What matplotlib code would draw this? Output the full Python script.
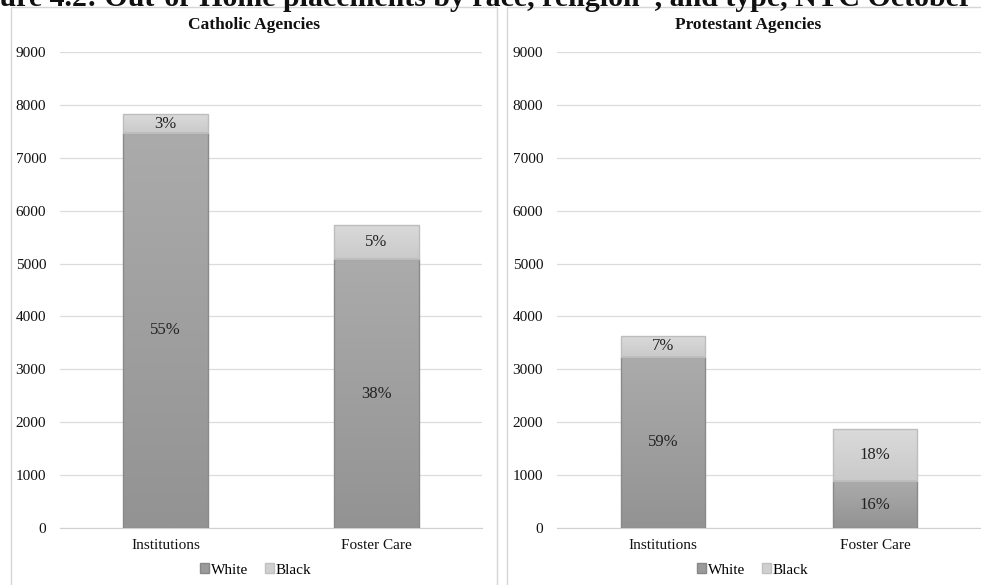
import numpy as np
import matplotlib.pyplot as plt
from matplotlib.colors import LinearSegmentedColormap
from matplotlib.patches import Rectangle, Patch

plt.rcParams['font.family'] = ['Liberation Serif', 'DejaVu Serif']

# placements per agency group (children in care)
categories = ['Institutions', 'Foster Care']
catholic_white = [7470, 5085]
catholic_black = [355, 643]
protestant_white = [3238, 888]
protestant_black = [400, 978]

# shares of each agency group's total
catholic_white_pct = ['55%', '38%']
catholic_black_pct = ['3%', '5%']
protestant_white_pct = ['59%', '16%']
protestant_black_pct = ['7%', '18%']

yticks = [0, 1000, 2000, 3000, 4000, 5000, 6000, 7000, 8000, 9000]

W, H = 981, 585
fig = plt.figure(figsize=(W / 100, H / 100), dpi=100)

WHITE_COLS = ('#ababab', '#939393', '#8a8a8a')
BLACK_COLS = ('#dadada', '#cacaca', '#bdbdbd')


def shaded_bars(ax, x, heights, bottoms, cols):
    top, bottom, edge = cols
    bars = ax.bar(x, heights, 0.4, bottom=bottoms, color=bottom, zorder=2)
    cmap = LinearSegmentedColormap.from_list('g', [bottom, top])
    grad = np.linspace(0, 1, 256).reshape(-1, 1)
    for b in bars:
        x0, y0 = b.get_x(), b.get_y()
        im = ax.imshow(grad, extent=(x0, x0 + b.get_width(), y0, y0 + b.get_height()),
                       origin='lower', cmap=cmap, aspect='auto', zorder=2.1)
        im.set_clip_path(b)
    ax.bar(x, heights, 0.4, bottom=bottoms, fill=False, edgecolor=edge,
           linewidth=1.0, zorder=3)
    return bars


def panel(left, right, title, white, black, white_pct, black_pct, box, leg_x):
    ax = fig.add_axes([left / W, 1 - 528 / H, (right - left) / W, (528 - 52) / H])
    x = np.arange(len(categories))
    shaded_bars(ax, x, white, [0] * len(white), WHITE_COLS)
    shaded_bars(ax, x, black, white, BLACK_COLS)
    for i in range(len(x)):
        ax.text(x[i], white[i] / 2, white_pct[i], ha='center', va='center',
                fontsize=12, color='#222222', zorder=4)
        ax.text(x[i], white[i] + black[i] / 2, black_pct[i], ha='center', va='center',
                fontsize=12, color='#222222', zorder=4)
    ax.set_xlim(-0.5, len(categories) - 0.5)
    ax.set_ylim(0, 9000)
    ax.set_yticks(yticks)
    ax.set_xticks(x)
    ax.set_xticklabels(categories)
    ax.tick_params(length=0, labelsize=11, colors='#111111')
    ax.tick_params(axis='y', pad=10)
    ax.tick_params(axis='x', pad=8)
    ax.grid(axis='y', color='#dcdcdc', linewidth=0.9, zorder=0)
    ax.set_axisbelow(True)
    for s in ['top', 'right', 'left']:
        ax.spines[s].set_visible(False)
    ax.spines['bottom'].set_color('#d0d0d0')
    ax.spines['bottom'].set_zorder(1)

    # panel frame and heading
    x0, x1 = box
    fig.add_artist(Rectangle((x0 / W, -0.01), (x1 - x0) / W, 1 - 7 / H + 0.01,
                             transform=fig.transFigure, fill=False,
                             edgecolor='#d6d6d6', linewidth=1.0))
    fig.text((x0 + x1) / 2 / W, 1 - 25 / H, title, ha='center', va='center',
             fontsize=12.5, fontweight='bold', color='#111111')

    handles = [Patch(facecolor='#9a9a9a', edgecolor='#888888', label='White'),
               Patch(facecolor='#d0d0d0', edgecolor='#c0c0c0', label='Black')]
    fig.legend(handles=handles, loc='center', bbox_to_anchor=(leg_x / W, 1 - 570 / H),
               ncol=2, frameon=False, fontsize=11, handlelength=0.55,
               handleheight=0.55, handletextpad=0.15, columnspacing=1.1,
               borderpad=0)
    return ax


panel(60, 482, 'Catholic Agencies', catholic_white, catholic_black,
      catholic_white_pct, catholic_black_pct, (11, 497), 256)
panel(557, 981, 'Protestant Agencies', protestant_white, protestant_black,
      protestant_white_pct, protestant_black_pct, (507, 990), 753)

# figure caption, running off the top of the page
caption = 'Figure 4.2: Out-of-Home placements by race, religion*, and type, NYC October 1930'
renderer = fig.canvas.get_renderer()
probe = fig.text(0, 0, 'Fig', fontsize=21.5, fontweight='bold')
offset = probe.get_window_extent(renderer).width
probe.remove()
fig.text(-offset / W, 1 - 6 / H, caption, ha='left', va='baseline',
         fontsize=21.5, fontweight='bold', color='#111111')

fig.savefig('out.png', dpi=100)
